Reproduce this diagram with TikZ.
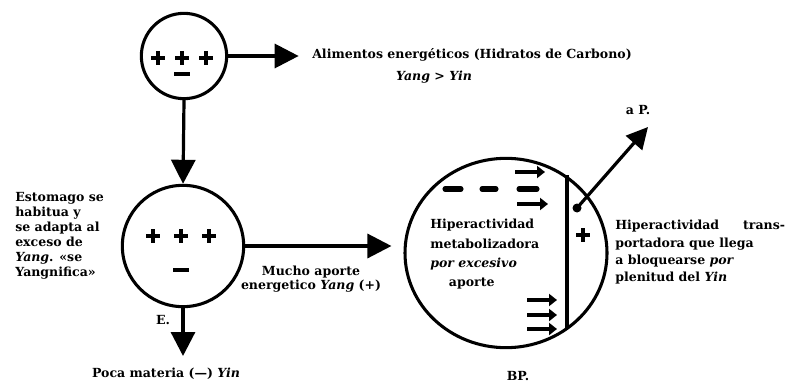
\documentclass[tikz,border=0pt]{standalone}
\usepackage{fontspec}
\setmainfont{DejaVu Serif}
\usetikzlibrary{arrows.meta,shapes.geometric,positioning}

\tikzset{
  mas/.pic={\draw[signo] (-7,0) -- (7,0) (0,-7) -- (0,7);},
  menos/.pic={\draw[signo] (-8,0) -- (8,0);}
}

\begin{document}
\begin{tikzpicture}[x=0.75pt,y=-0.75pt,
  circulo/.style={draw,circle,line width=2.3pt,inner sep=0pt},
  flecha/.style={line width=2.4pt,-{Triangle[length=18pt,width=18pt]}},
  flechita/.style={line width=3.6pt,-{Triangle[length=6pt,width=9pt]}},
  raya/.style={line width=3.8pt,line cap=round},
  signo/.style={line width=3.2pt},
  texto/.style={font=\bfseries\fontsize{9.4}{14}\selectfont,inner sep=0pt}]
\useasboundingbox (0,0) rectangle (787,385);

\node[circulo,minimum size=64pt] (alim) at (184,56) {};
\node[circulo,minimum size=91pt] (esto) at (183,246) {};
\node[draw,ellipse,line width=2.3pt,inner sep=0pt,minimum width=151.5pt,minimum height=142pt] (bp) at (506,253) {};

\foreach \x in {158,182,206} \pic at (\x,58) {mas};
\pic at (182,74) {menos};
\foreach \x in {153,181,209} \pic at (\x,236) {mas};
\pic at (181,270) {menos};
\pic at (583,235) {mas};

\node[texto,anchor=west] (alimtxt) at (312,55) {Alimentos energéticos (Hidratos de Carbono)};
\node[texto] (yangyin) at (434,77) {\itshape Yang \upshape> \itshape Yin};
\node[texto,align=left,anchor=north west,font=\bfseries\fontsize{9.4}{11.2}\selectfont] (estotxt) at (15,192) {Estomago se\\habitua y\\se adapta al\\exceso de\\{\itshape Yang}. «se\\Yangnifica»};
\node[texto,align=center,font=\bfseries\fontsize{9.4}{10.5}\selectfont] (mucho) at (311,279) {Mucho aporte\\energetico {\itshape Yang} (+)};
\node[texto] (e) at (163,320) {E.};
\node[texto] (poca) at (166,374) {Poca materia (—) {\itshape Yin}};
\node[texto,align=left,anchor=north west,font=\bfseries\fontsize{9.4}{14.5}\selectfont] (hiper) at (430,219) {Hiperactividad\\metabolizadora\\{\itshape por excesivo}\\\hspace*{14pt}aporte};
\node[texto,align=left,anchor=north west,font=\bfseries\fontsize{9.4}{13}\selectfont] (trans) at (615,220) {Hiperactividad\hspace*{18pt}trans-\\portadora que llega\\a bloquearse {\itshape por}\\plenitud del {\itshape Yin}};
\node[texto] (ap) at (638,110) {a P.};
\node[texto] (bptxt) at (518,376) {BP.};

\draw[flecha] (alim.east) -- (alim.east -| alimtxt.west) [shorten >=10pt];
\draw[flecha] (alim.south) -- (esto.north);
\draw[flecha] (esto.east) -- (esto.east -| bp.west) [shorten >=9pt];
\draw[flecha] (esto.south) -- (esto.south |- poca.north) [shorten >=9pt];

\coordinate (punto) at (577,208);
\coordinate (ptip) at (648,127);
\fill (punto) circle (4.5);
\draw[flecha,-{Triangle[length=16pt,width=16pt]}] (punto) -- (ptip);

\draw[line width=2.3pt] (567,175) -- (567,329);
\draw[flechita] (515,172) -- (545,172);
\draw[flechita] (517,204) -- (548,204);
\foreach \y in {300,315,329} \draw[flechita] (527,\y) -- (557,\y);
\draw[raya] (445,189) -- (461,189) (482,189) -- (496,189) (519,189) -- (537,189);
\end{tikzpicture}
\end{document}
